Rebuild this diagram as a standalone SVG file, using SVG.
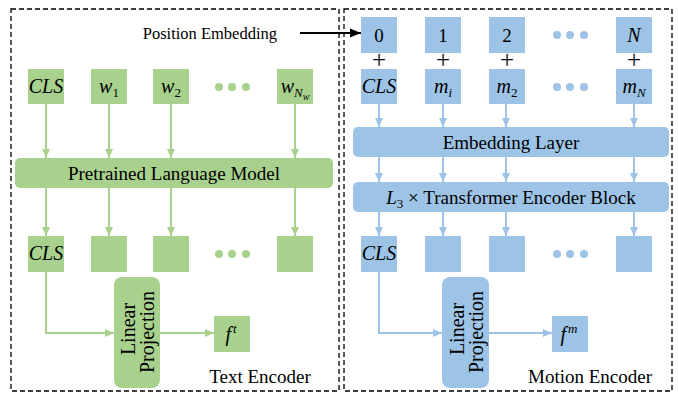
<svg xmlns="http://www.w3.org/2000/svg" width="678" height="393" viewBox="0 0 678 393">
<style>
.frame{fill:none;stroke:#000;stroke-width:1.3;stroke-dasharray:5 3}
.g{fill:#A9D18E}
.b{fill:#9DC3E6}
.gl{fill:none;stroke:#A9D18E;stroke-width:2}
.bl{fill:none;stroke:#9DC3E6;stroke-width:2}
.t{font-family:"Liberation Serif","Times New Roman",serif;font-size:19px;fill:#000}
.m{font-family:"Liberation Serif","Times New Roman",serif;font-size:20px;font-style:italic;fill:#000}
.p{font-family:"Liberation Serif","Times New Roman",serif;font-size:25px;fill:#000}
.s{font-size:13px}
.ss{font-size:10px}
</style>
<defs>
<marker id="ag" markerUnits="userSpaceOnUse" markerWidth="10" markerHeight="10" refX="9" refY="5" orient="auto">
<path d="M0,1 L9,5 L0,9 Z" fill="#A9D18E"/>
</marker>
<marker id="ab" markerUnits="userSpaceOnUse" markerWidth="10" markerHeight="10" refX="9" refY="5" orient="auto">
<path d="M0,1 L9,5 L0,9 Z" fill="#9DC3E6"/>
</marker>
<marker id="ak" markerUnits="userSpaceOnUse" markerWidth="12" markerHeight="10" refX="11" refY="5" orient="auto">
<path d="M0,0.5 L11,5 L0,9.5 Z" fill="#000"/>
</marker>
</defs>
<rect fill="#fff" x="0" y="0" width="678" height="393"/>

<g id="text-encoder-frame">
<rect class="frame" x="11" y="9" width="328" height="382"/>
<text class="t" x="260" y="383" text-anchor="middle">Text Encoder</text>
</g>
<g id="motion-encoder-frame">
<rect class="frame" x="344" y="9" width="328" height="382"/>
<text class="t" x="590" y="383" text-anchor="middle">Motion Encoder</text>
</g>

<g id="connectors">
<path class="gl" d="M46 104 V158" marker-end="url(#ag)"/>
<path class="gl" d="M109 104 V158" marker-end="url(#ag)"/>
<path class="gl" d="M171 104 V158" marker-end="url(#ag)"/>
<path class="gl" d="M295 104 V158" marker-end="url(#ag)"/>
<path class="gl" d="M46 188 V236" marker-end="url(#ag)"/>
<path class="gl" d="M109 188 V236" marker-end="url(#ag)"/>
<path class="gl" d="M171 188 V236" marker-end="url(#ag)"/>
<path class="gl" d="M295 188 V236" marker-end="url(#ag)"/>
<path class="gl" d="M46 272 V333 H114" marker-end="url(#ag)"/>
<path class="gl" d="M160 333 H214" marker-end="url(#ag)"/>
<path class="bl" d="M379 104 V127" marker-end="url(#ab)"/>
<path class="bl" d="M443 104 V127" marker-end="url(#ab)"/>
<path class="bl" d="M506 104 V127" marker-end="url(#ab)"/>
<path class="bl" d="M634 104 V127" marker-end="url(#ab)"/>
<path class="bl" d="M379 157 V182" marker-end="url(#ab)"/>
<path class="bl" d="M443 157 V182" marker-end="url(#ab)"/>
<path class="bl" d="M506 157 V182" marker-end="url(#ab)"/>
<path class="bl" d="M634 157 V182" marker-end="url(#ab)"/>
<path class="bl" d="M379 212 V236" marker-end="url(#ab)"/>
<path class="bl" d="M443 212 V236" marker-end="url(#ab)"/>
<path class="bl" d="M506 212 V236" marker-end="url(#ab)"/>
<path class="bl" d="M634 212 V236" marker-end="url(#ab)"/>
<path class="bl" d="M379 272 V333 H442" marker-end="url(#ab)"/>
<path class="bl" d="M489 333 H552" marker-end="url(#ab)"/>
<path d="M300 33 H361" stroke="#000" stroke-width="2" fill="none" marker-end="url(#ak)"/>
</g>

<g id="position-embedding-label">
<text class="t" x="277" y="38.5" text-anchor="end" style="font-size:16.5px">Position Embedding</text>
</g>

<g id="t-cls-in"><rect class="g" x="28" y="69" width="36" height="35"/><text class="m" x="46" y="93" text-anchor="middle">CLS</text></g>
<g id="t-w1"><rect class="g" x="91" y="69" width="36" height="35"/><text class="m" x="109" y="93" text-anchor="middle">w<tspan class="s" font-style="normal" dy="4">1</tspan></text></g>
<g id="t-w2"><rect class="g" x="153" y="69" width="36" height="35"/><text class="m" x="171" y="93" text-anchor="middle">w<tspan class="s" font-style="normal" dy="4">2</tspan></text></g>
<g id="t-dots-in"><circle class="g" cx="219" cy="87" r="4"/><circle class="g" cx="232" cy="87" r="4"/><circle class="g" cx="246" cy="87" r="4"/></g>
<g id="t-wNw"><rect class="g" x="277" y="69" width="36" height="35"/><text class="m" x="295" y="93" text-anchor="middle">w<tspan class="s" dy="4">N</tspan><tspan class="ss" dy="3">w</tspan></text></g>

<g id="t-plm"><rect class="g" x="15" y="158" width="318" height="30" rx="5"/><text class="t" x="174" y="179.5" text-anchor="middle">Pretrained Language Model</text></g>

<g id="t-cls-out"><rect class="g" x="28" y="236" width="36" height="36"/><text class="m" x="46" y="260" text-anchor="middle">CLS</text></g>
<g id="t-o1"><rect class="g" x="91" y="236" width="36" height="36"/></g>
<g id="t-o2"><rect class="g" x="153" y="236" width="36" height="36"/></g>
<g id="t-dots-out"><circle class="g" cx="219" cy="254" r="4"/><circle class="g" cx="232" cy="254" r="4"/><circle class="g" cx="246" cy="254" r="4"/></g>
<g id="t-oN"><rect class="g" x="277" y="236" width="36" height="36"/></g>

<g id="t-linproj"><rect class="g" x="114" y="277" width="46" height="111" rx="8"/>
<text class="t" transform="translate(137,332) rotate(-90)" text-anchor="middle" style="font-size:20px"><tspan x="3" y="-2">Linear</tspan><tspan x="0" y="17">Projection</tspan></text></g>
<g id="t-ft"><rect class="g" x="214" y="316" width="36" height="36"/><text class="m" x="231" y="341" text-anchor="middle">f<tspan class="s" dx="2" dy="-8">t</tspan></text></g>

<g id="m-p0"><rect class="b" x="361" y="17" width="36" height="36"/><text class="t" x="379" y="41.5" text-anchor="middle">0</text></g>
<g id="m-p1"><rect class="b" x="425" y="17" width="36" height="36"/><text class="t" x="443" y="41.5" text-anchor="middle">1</text></g>
<g id="m-p2"><rect class="b" x="489" y="17" width="36" height="36"/><text class="t" x="507" y="41.5" text-anchor="middle">2</text></g>
<g id="m-pdots"><circle class="b" cx="557" cy="35" r="4"/><circle class="b" cx="570" cy="35" r="4"/><circle class="b" cx="584" cy="35" r="4"/></g>
<g id="m-pN"><rect class="b" x="616" y="17" width="36" height="36"/><text class="m" x="634" y="41.5" text-anchor="middle">N</text></g>

<g id="m-plus">
<text class="p" x="379" y="68" text-anchor="middle">+</text>
<text class="p" x="443" y="68" text-anchor="middle">+</text>
<text class="p" x="507" y="68" text-anchor="middle">+</text>
<text class="p" x="634" y="68" text-anchor="middle">+</text>
</g>

<g id="m-cls-in"><rect class="b" x="361" y="69" width="36" height="35"/><text class="m" x="379" y="93" text-anchor="middle">CLS</text></g>
<g id="m-mi"><rect class="b" x="425" y="69" width="36" height="35"/><text class="m" x="443" y="93" text-anchor="middle">m<tspan class="s" dy="4">i</tspan></text></g>
<g id="m-m2"><rect class="b" x="489" y="69" width="36" height="35"/><text class="m" x="507" y="93" text-anchor="middle">m<tspan class="s" font-style="normal" dy="4">2</tspan></text></g>
<g id="m-dots-in"><circle class="b" cx="557" cy="87" r="4"/><circle class="b" cx="570" cy="87" r="4"/><circle class="b" cx="584" cy="87" r="4"/></g>
<g id="m-mN"><rect class="b" x="616" y="69" width="36" height="35"/><text class="m" x="634" y="93" text-anchor="middle">m<tspan class="s" dy="4">N</tspan></text></g>

<g id="m-embed"><rect class="b" x="353" y="127" width="316" height="30" rx="5"/><text class="t" x="511" y="148.5" text-anchor="middle">Embedding Layer</text></g>
<g id="m-transformer"><rect class="b" x="353" y="182" width="316" height="30" rx="5"/><text class="t" x="511" y="203.5" text-anchor="middle"><tspan font-style="italic">L</tspan><tspan class="s" dy="4">3</tspan><tspan dy="-4"> × Transformer Encoder Block</tspan></text></g>

<g id="m-cls-out"><rect class="b" x="361" y="236" width="36" height="36"/><text class="m" x="379" y="260" text-anchor="middle">CLS</text></g>
<g id="m-o1"><rect class="b" x="425" y="236" width="36" height="36"/></g>
<g id="m-o2"><rect class="b" x="489" y="236" width="36" height="36"/></g>
<g id="m-dots-out"><circle class="b" cx="557" cy="254" r="4"/><circle class="b" cx="570" cy="254" r="4"/><circle class="b" cx="584" cy="254" r="4"/></g>
<g id="m-oN"><rect class="b" x="616" y="236" width="36" height="36"/></g>

<g id="m-linproj"><rect class="b" x="442" y="277" width="47" height="111" rx="8"/>
<text class="t" transform="translate(465.5,332) rotate(-90)" text-anchor="middle" style="font-size:20px"><tspan x="3" y="-2">Linear</tspan><tspan x="0" y="17">Projection</tspan></text></g>
<g id="m-fm"><rect class="b" x="552" y="316" width="36" height="36"/><text class="m" x="569" y="341" text-anchor="middle">f<tspan class="s" dx="2" dy="-8">m</tspan></text></g>
</svg>
